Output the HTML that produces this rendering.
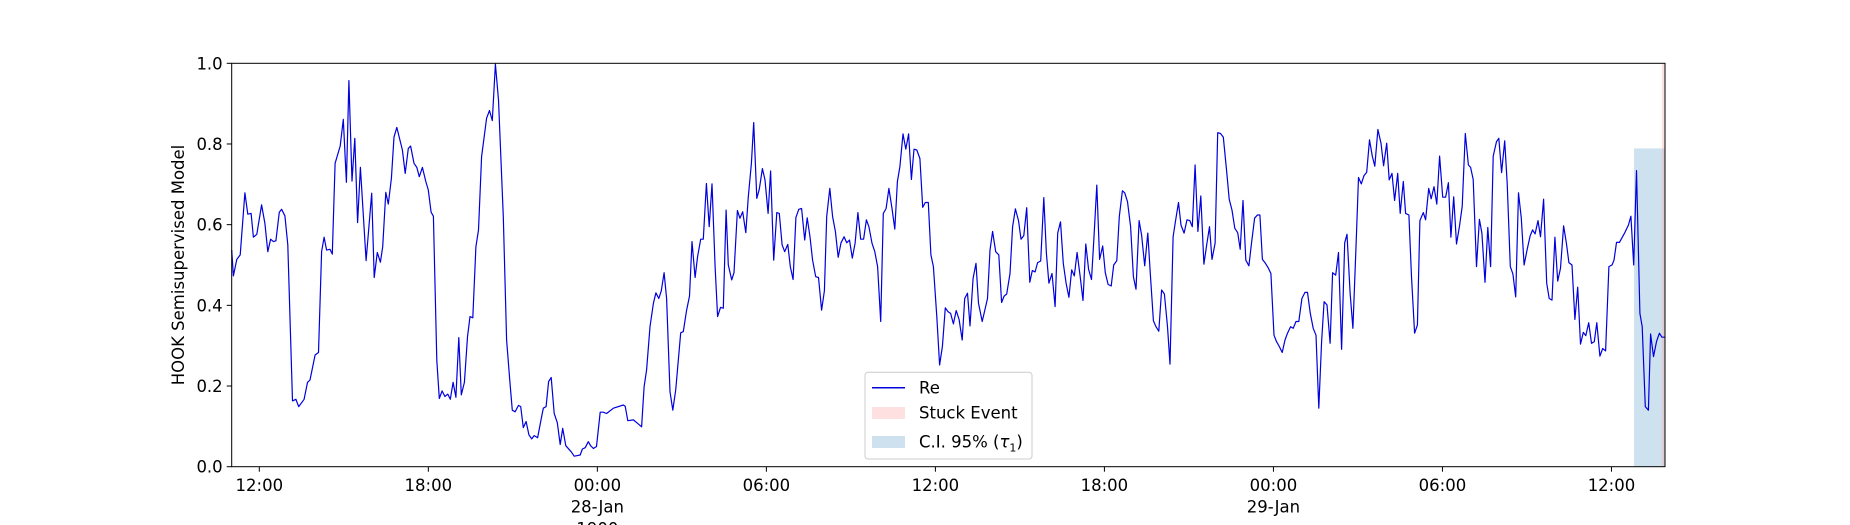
<!DOCTYPE html>
<html><head><meta charset="utf-8">
<style>
html,body{margin:0;padding:0;background:#fff;}
svg{display:block;font-family:"DejaVu Sans","Liberation Sans",sans-serif;}
</style></head>
<body>
<svg id="chart" width="1850" height="525" viewBox="0 0 1850 525" xmlns="http://www.w3.org/2000/svg">
<g id="bands"></g>
<g id="series"></g>
<g id="axes"></g>
<g id="legend"></g>
</svg>
<script>
// hours since 27-Jan 00:00
const times = [11.02,11.08,11.20,11.32,11.49,11.59,11.71,11.79,11.91,12.08,12.20,12.30,12.40,12.50,12.59,12.71,12.79,12.91,13.01,13.18,13.30,13.40,13.59,13.71,13.80,13.98,14.10,14.21,14.30,14.39,14.51,14.59,14.69,14.87,14.98,15.09,15.18,15.29,15.39,15.49,15.59,15.79,15.99,16.08,16.19,16.30,16.38,16.49,16.58,16.69,16.78,16.88,17.08,17.18,17.29,17.37,17.49,17.59,17.68,17.79,17.91,18.00,18.10,18.18,18.30,18.39,18.49,18.59,18.69,18.78,18.88,18.98,19.08,19.17,19.28,19.39,19.48,19.58,19.69,19.78,
19.89,20.07,20.17,20.27,20.38,20.49,20.66,20.78,20.90,20.98,21.08,21.20,21.28,21.37,21.47,21.57,21.67,21.76,21.88,21.99,22.08,22.18,22.27,22.36,22.47,22.58,22.68,22.77,22.88,23.07,23.18,23.39,23.47,23.57,23.68,23.76,23.86,23.97,24.10,24.21,24.33,24.57,24.92,24.99,25.08,25.28,25.40,25.57,25.66,25.75,25.87,25.99,26.08,26.18,26.27,26.37,26.46,26.58,26.68,26.78,26.96,27.05,27.17,27.27,27.36,27.47,27.56,27.67,27.76,27.87,27.97,28.07,28.18,28.27,28.37,28.47,
28.57,28.65,28.77,28.85,28.97,29.06,29.16,29.27,29.36,29.47,29.55,29.66,29.75,29.86,29.95,30.06,30.15,30.26,30.37,30.46,30.56,30.65,30.76,30.85,30.95,31.05,31.15,31.25,31.36,31.45,31.55,31.64,31.75,31.85,31.96,32.06,32.14,32.25,32.35,32.45,32.55,32.65,32.76,32.85,32.95,33.05,33.15,33.25,33.35,33.45,33.55,33.64,33.75,33.85,33.95,34.06,34.15,34.25,34.35,34.46,34.56,34.65,34.74,34.85,34.95,35.05,35.15,35.24,35.34,35.45,35.55,35.64,35.75,35.84,35.93,36.05,36.15,36.25,36.35,36.45,36.54,36.64,36.74,36.84,36.95,37.04,37.14,37.23,37.34,37.44,
37.53,37.66,37.85,37.94,38.03,38.14,38.25,38.35,38.44,38.53,38.65,38.74,38.84,38.95,39.04,39.14,39.24,39.35,39.44,39.54,39.63,39.74,39.85,39.94,40.03,40.14,40.25,40.34,40.44,40.54,40.64,40.74,40.84,40.93,41.03,41.14,41.24,41.34,41.44,41.54,41.63,41.73,41.83,41.94,42.03,42.13,42.24,42.33,42.44,42.53,42.64,42.72,42.82,42.93,43.03,43.12,43.23,43.32,43.43,43.54,43.63,43.74,43.83,43.93,44.03,44.13,44.24,44.33,44.44,44.53,44.63,44.72,44.83,44.93,45.03,45.12,45.22,45.32,45.42,45.53,45.63,45.73,45.82,45.93,46.02,46.12,46.22,46.34,
46.43,46.53,46.63,46.73,46.82,46.92,47.02,47.13,47.22,47.33,47.43,47.52,47.61,47.72,47.82,47.91,48.02,48.11,48.21,48.31,48.41,48.50,48.61,48.70,48.80,48.90,49.01,49.12,49.21,49.31,49.41,49.51,49.61,49.71,49.80,49.90,50.01,50.10,50.21,50.31,50.42,50.53,50.61,50.72,50.82,50.93,51.02,51.12,51.21,51.31,51.41,51.51,51.60,51.71,51.82,51.91,52.02,52.11,52.21,52.30,52.41,52.50,52.61,52.69,52.81,52.90,53.01,53.11,53.20,53.32,53.40,53.51,53.60,53.70,53.80,53.90,54.01,54.11,54.21,54.30,54.40,54.50,54.60,54.70,54.81,54.92,55.00,55.09,55.21,55.31,
55.40,55.51,55.61,55.71,55.80,55.92,56.00,56.10,56.21,56.30,56.41,56.50,56.60,56.70,56.80,56.90,57.01,57.11,57.20,57.29,57.39,57.48,57.59,57.70,57.79,57.89,57.99,58.09,58.19,58.30,58.40,58.49,58.60,58.70,58.80,58.90,59.00,59.09,59.19,59.29,59.39,59.48,59.59,59.69,59.79,59.91,60.02,60.09,60.18,60.28,60.48,60.60,60.69,60.79,60.89,61.01,61.09,61.20,61.31,61.39,61.49,61.60,61.70,61.79,61.91];
const values = [.537,.473,.514,.525,.679,.626,.628,.569,.576,.649,.603,.533,.564,.558,.560,.631,.638,.622,.550,.163,.167,.149,.167,.209,.215,.277,.283,.533,.569,.537,.539,.527,.752,.795,.861,.705,.957,.708,.814,.605,.742,.511,.678,.469,.531,.507,.545,.680,.651,.715,.817,.841,.785,.727,.789,.795,.752,.742,.719,.742,.707,.686,.631,.621,.264,.169,.188,.174,.180,.167,.209,.172,.320,.178,.209,.322,.372,.369,.545,.587,
.769,.864,.883,.858,.998,.909,.620,.314,.207,.140,.136,.152,.149,.097,.112,.079,.069,.077,.072,.112,.145,.149,.211,.221,.132,.109,.055,.095,.052,.037,.026,.029,.044,.047,.062,.052,.045,.050,.135,.135,.132,.145,.153,.150,.114,.116,.109,.099,.198,.240,.347,.405,.431,.417,.436,.481,.417,.186,.140,.190,.332,.335,.388,.423,.558,.469,.521,.564,.564,.702,.595,.701,.496,.372,.395,.393,
.636,.500,.463,.481,.635,.616,.632,.580,.669,.752,.853,.665,.688,.739,.711,.628,.733,.512,.630,.628,.550,.533,.551,.496,.464,.618,.638,.640,.562,.617,.570,.512,.471,.469,.388,.436,.620,.690,.620,.583,.519,.555,.570,.555,.562,.517,.554,.630,.564,.564,.612,.595,.554,.533,.496,.360,.628,.640,.690,.640,.589,.707,.744,.825,.787,.825,.712,.787,.785,.764,.643,.655,.655,.525,.496,.372,.252,.298,.394,.384,.380,.354,.387,.365,.314,.417,.430,.349,.467,.504,
.405,.360,.417,.537,.583,.533,.525,.407,.423,.428,.479,.595,.639,.610,.564,.573,.642,.457,.486,.483,.506,.510,.667,.529,.455,.479,.397,.579,.607,.504,.455,.420,.488,.473,.531,.471,.412,.552,.489,.464,.570,.698,.514,.547,.481,.452,.448,.500,.511,.620,.684,.679,.657,.595,.471,.440,.610,.574,.498,.579,.479,.362,.347,.336,.438,.428,.347,.254,.570,.612,.655,.599,.579,.612,.610,.595,.748,.583,.671,.502,.550,.595,.514,.554,.828,.826,.817,.731,
.663,.636,.591,.580,.539,.660,.512,.498,.554,.616,.624,.624,.514,.504,.492,.479,.326,.310,.298,.283,.314,.331,.347,.343,.360,.360,.417,.432,.432,.380,.343,.326,.145,.310,.409,.401,.306,.481,.475,.531,.291,.555,.576,.431,.343,.545,.717,.701,.721,.730,.810,.770,.745,.836,.802,.746,.802,.711,.727,.660,.727,.628,.707,.628,.624,.471,.331,.351,.610,.630,.612,.690,.664,.694,.651,.770,.668,.668,.704,.569,.669,.552,.595,.645,.826,.748,.742,.712,.496,.613,
.579,.457,.593,.496,.770,.806,.814,.729,.808,.702,.496,.478,.421,.679,.616,.500,.539,.572,.587,.577,.610,.570,.663,.455,.417,.413,.569,.460,.492,.597,.554,.506,.500,.365,.445,.304,.333,.325,.357,.306,.310,.357,.274,.293,.287,.496,.500,.512,.556,.556,.581,.599,.621,.500,.734,.380,.347,.149,.140,.329,.273,.310,.331,.321,.321];
const yTicks = [0, 0.2, 0.4, 0.6, 0.8, 1.0];
const yTickLabels = ["0.0","0.2","0.4","0.6","0.8","1.0"];
const xTicks = [12, 18, 24, 30, 36, 42, 48, 54, 60];
const xTickLabels = [["12:00"],["18:00"],["00:00","28-Jan","1900"],["06:00"],["12:00"],["18:00"],["00:00","29-Jan"],["06:00"],["12:00"]];
const ciBand = [60.80, 61.90];
const ciTop = [0.789];
const stuckBand = [61.79, 61.90];

const L=231.7, R=1665, T=63.3, B=466.7;
const xMin=11.02, xMax=61.9;
const X = h => L + (h - xMin) / (xMax - xMin) * (R - L);
const Y = v => B - v * (B - T);
const NS="http://www.w3.org/2000/svg";
function mk(tag, attrs, parent){const e=document.createElementNS(NS,tag);for(const k in attrs)e.setAttribute(k,attrs[k]);parent.appendChild(e);return e;}

const bands=document.getElementById('bands');
let r=mk('rect',{x:X(ciBand[0]),y:Y(ciTop[0]),width:X(ciBand[1])-X(ciBand[0]),height:Y(0)-Y(ciTop[0]),fill:'#1f77b4','fill-opacity':0.22},bands);


r=mk('rect',{x:X(stuckBand[0]),y:T,width:X(stuckBand[1])-X(stuckBand[0]),height:B-T,fill:'#ff9999','fill-opacity':0.3},bands);



const series=document.getElementById('series');
const pts=times.map((t,i)=>X(t).toFixed(1)+','+Y(values[i]).toFixed(1)).join(' ');
const pl=mk('polyline',{points:pts,fill:'none',stroke:'#0000dd','stroke-width':1.2,'stroke-linejoin':'round'},series);



const axes=document.getElementById('axes');
const frame=mk('rect',{x:L,y:T,width:R-L,height:B-T,fill:'none',stroke:'#000','stroke-width':1},axes);


yTicks.forEach((v,i)=>{
  mk('line',{x1:L-5,x2:L,y1:Y(v),y2:Y(v),stroke:'#000'},axes);
  const t=mk('text',{x:L-9,y:Y(v)+6,'text-anchor':'end','font-size':16.5,fill:'#000'},axes);
  t.textContent=yTickLabels[i];
  
  
});
xTicks.forEach((h,i)=>{
  mk('line',{x1:X(h),x2:X(h),y1:B,y2:B+5,stroke:'#000'},axes);
  xTickLabels[i].forEach((s,j)=>{
    const t=mk('text',{x:X(h),y:491+j*21.7,'text-anchor':'middle','font-size':16.5,fill:'#000'},axes);
    t.textContent=s;
    
    
  });
});
const yl=mk('text',{x:0,y:0,transform:'translate(184,265) rotate(-90)','text-anchor':'middle','font-size':16.5,fill:'#000'},axes);
yl.textContent='HOOK Semisupervised Model';



const lg=document.getElementById('legend');


mk('rect',{x:865,y:372.3,width:167,height:86.7,rx:3,fill:'#fff','fill-opacity':0.8,stroke:'#cccccc'},lg);
mk('line',{x1:872,x2:905,y1:387.7,y2:387.7,stroke:'#0000dd','stroke-width':1.5},lg);
mk('rect',{x:872,y:407,width:33,height:12,fill:'#ff9999','fill-opacity':0.3},lg);
mk('rect',{x:872,y:436,width:33,height:12,fill:'#1f77b4','fill-opacity':0.22},lg);
const e1=mk('text',{x:919,y:393.5,'font-size':16.5,fill:'#000'},lg);
e1.textContent='Re';


const e2=mk('text',{x:919,y:418.5,'font-size':16.5,fill:'#000'},lg);
e2.textContent='Stuck Event';


const e3=mk('text',{x:919,y:447.5,'font-size':16.5,fill:'#000'},lg);
e3.innerHTML='C.I. 95% (<tspan font-style="italic">τ</tspan><tspan font-size="11" dy="4">1</tspan><tspan dy="-4">)</tspan>';


</script>
</body></html>
